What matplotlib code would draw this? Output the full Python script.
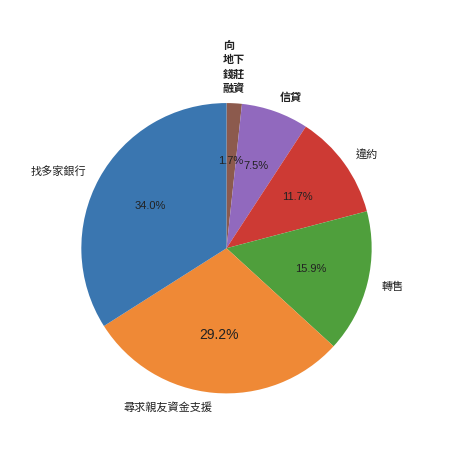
import matplotlib
matplotlib.use("Agg")
import matplotlib.pyplot as plt

labels = ["向\n地下\n錢莊\n融資", "信貸", "違約", "轉售", "尋求親友資金支援", "找多家銀行"]
values = [1.7, 7.5, 11.7, 15.9, 29.2, 34.0]
colors = ["#8c5a4d", "#9169be", "#cd3a34", "#4f9f3c", "#ef8936", "#3a76b0"]

plt.rcParams['font.family'] = ['Noto Sans CJK TC', 'DejaVu Sans']

fig = plt.figure(figsize=(4.53, 4.50), dpi=100)
ax = fig.add_axes([0.0, 0.0, 1.0, 1.0])
wedges, texts, autotexts = ax.pie(values, labels=labels, colors=colors, startangle=90,
                                  counterclock=False, autopct='%1.1f%%', pctdistance=0.6,
                                  labeldistance=1.1, radius=1.0,
                                  textprops={'fontsize': 8})
for t in texts:
    t.set_fontsize(8)
    t.set_color('#222222')
texts[1].set_fontweight('bold')
t0 = texts[0]
t0.set_position((0.05, 1.055))
t0.set_horizontalalignment('center')
t0.set_verticalalignment('bottom')
t0.set_multialignment('left')
t0.set_linespacing(1.15)
t0.set_fontweight('bold')
for t in autotexts:
    t.set_family(['Liberation Sans', 'DejaVu Sans'])
    t.set_fontsize(8)
    t.set_color('#222222')
autotexts[4].set_fontsize(10)
ax.set_aspect('equal')
ax.set_xlim(-1.56, 1.56)
ax.set_ylim(-1.39, 1.71)
fig.savefig("out.png", dpi=100)
